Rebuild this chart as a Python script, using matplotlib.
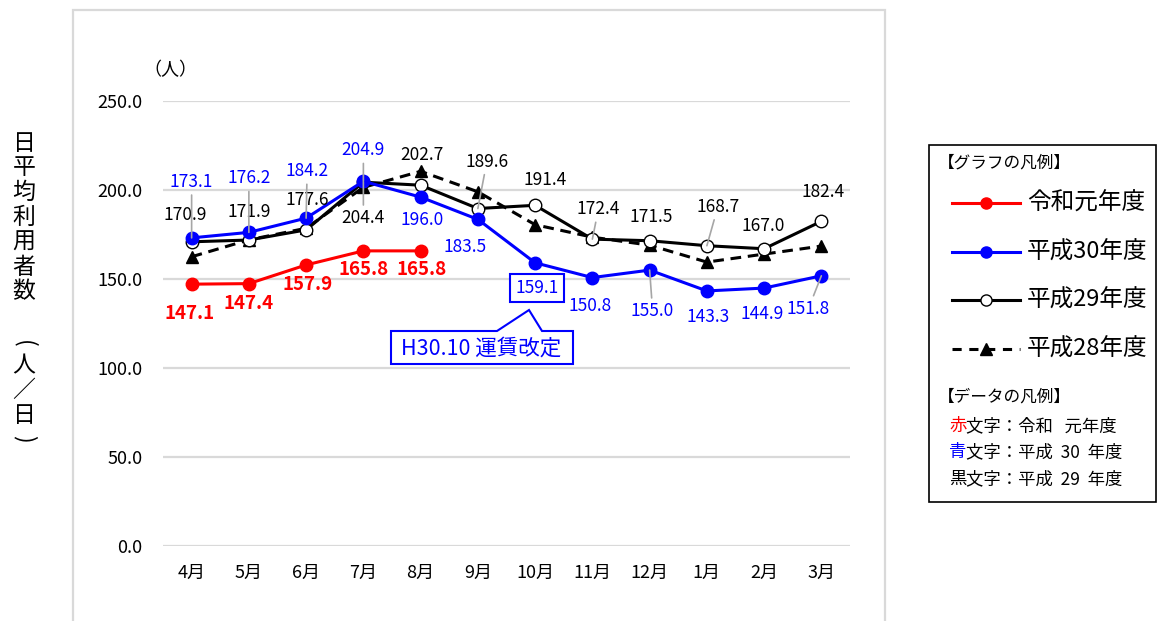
import numpy as np
import matplotlib.pyplot as plt
from matplotlib.lines import Line2D
from matplotlib.patches import Rectangle, Polygon

plt.rcParams['font.family'] = ['Noto Sans CJK JP', 'DejaVu Sans']

W, H = 1158, 621

months = ["4月", "5月", "6月", "7月", "8月", "9月", "10月", "11月", "12月", "1月", "2月", "3月"]
r1 = [147.1, 147.4, 157.9, 165.8, 165.8]
h30 = [173.1, 176.2, 184.2, 204.9, 196.0, 183.5, 159.1, 150.8, 155.0, 143.3, 144.9, 151.8]
h29 = [170.9, 171.9, 177.6, 204.4, 202.7, 189.6, 191.4, 172.4, 171.5, 168.7, 167.0, 182.4]
h28 = [162.5, 172.0, 178.5, 201.5, 210.5, 199.0, 180.5, 173.5, 169.0, 159.5, 164.0, 168.5]

# label offsets in pixels (dx, dy up)
h30_off = [(0, 56), (0, 54), (1, 47), (0, 31), (1, -23), (-13, -28), (2, -25),
           (-2, -28), (3, -41), (1, -26), (-2, -26), (-13, -33)]
h29_off = [(-6, 27), (0, 28), (1, 30), (0, -36), (1, 30), (9, 47), (10, 25),
           (6, 30), (2, 24), (11, 39), (-1, 23), (2, 29)]
r1_off = [(-2, -29), (0, -20), (1, -20), (0, -19), (1, -19)]
h30_lead = [0, 1, 2, 3, 8, 11]
h29_lead = [3, 5, 7, 9]

RED, BLUE, GRID = "#ff0000", "#0000ff", "#d9d9d9"


def fx(x):
    return x / W


def fy(y):
    return 1 - y / H


fig = plt.figure(figsize=(W / 100, H / 100), dpi=100)
fig.add_artist(Rectangle((fx(73), fy(660)), fx(885) - fx(73), fy(10) - fy(660),
                         transform=fig.transFigure, fill=False, edgecolor=GRID, lw=1.6))

ax = fig.add_axes([fx(163), fy(546), (850 - 163) / W, (546 - 101) / H])
x = np.arange(len(months))

ax.plot(x, h28, color="black", lw=2.2, ls=(0, (3.5, 2.2)), marker="^", ms=8, zorder=3)
ax.plot(x, h29, color="black", lw=2.2, marker="o", ms=9, mfc="white", mec="black", mew=1.0, zorder=4)
ax.plot(x, h30, color=BLUE, lw=2.2, marker="o", ms=9, zorder=5)
ax.plot(x[:len(r1)], r1, color=RED, lw=2.2, marker="o", ms=9, zorder=6)

lead = dict(arrowstyle="-", color="#a6a6a6", lw=1.2, shrinkA=1, shrinkB=0)
for i, v in enumerate(h29):
    ap = lead if i in h29_lead else None
    ax.annotate(f"{v:.1f}", (x[i], v), xytext=h29_off[i], textcoords="offset pixels",
                ha="center", va="center", fontsize=12.5, color="black", arrowprops=ap, zorder=7)
for i, v in enumerate(h30):
    ap = lead if i in h30_lead else None
    bb = None
    if i == 6:
        bb = dict(boxstyle="square,pad=0.3", fc="white", ec=BLUE, lw=1.5)
    ax.annotate(f"{v:.1f}", (x[i], v), xytext=h30_off[i], textcoords="offset pixels",
                ha="center", va="center", fontsize=12.5, color=BLUE, arrowprops=ap, bbox=bb, zorder=7)
for i, v in enumerate(r1):
    ax.annotate(f"{v:.1f}", (x[i], v), xytext=r1_off[i], textcoords="offset pixels",
                ha="center", va="center", fontsize=13.5, color=RED, fontweight="bold", zorder=7)

ax.set_xlim(-0.5, len(months) - 0.5)
ax.set_ylim(0, 250)
ax.set_yticks(np.arange(0, 251, 50))
ax.set_yticklabels([f"{t:.1f}" for t in np.arange(0, 251, 50)])
ax.set_xticks(x)
ax.set_xticklabels(months)
ax.tick_params(length=0, labelsize=13)
ax.tick_params(axis="y", pad=15)
ax.tick_params(axis="x", pad=13)
ax.grid(axis="y", color=GRID, lw=1.6)
ax.set_axisbelow(True)
for s in ax.spines.values():
    s.set_visible(False)

fig.text(fx(170), fy(70), "（人）", ha="center", va="center", fontsize=13)

# vertical y label
ylab = "日平均利用者数 (人／日)"
for k, ch in enumerate(ylab):
    if ch == " ":
        continue
    yy = 143 + k * 24.8
    rot = 0
    if ch == "(":
        rot, yy = -90, yy + 2
    elif ch == ")":
        rot, yy = -90, yy - 2
    fig.text(fx(24), fy(yy), ch, ha="center", va="center", fontsize=16.5, rotation=rot)

# callout
callout = [(391, 331), (497, 331), (529, 310), (542, 331), (573, 331), (573, 364), (391, 364)]
fig.add_artist(Polygon([(fx(a), fy(b)) for a, b in callout], closed=True, transform=fig.transFigure,
                       fc="white", ec=BLUE, lw=1.5, zorder=8))
fig.text(fx(481), fy(349), "H30.10 運賃改定", ha="center", va="center", fontsize=15.5, color=BLUE, zorder=9)

# legend box
fig.add_artist(Rectangle((fx(929), fy(502)), fx(1156) - fx(929), fy(145) - fy(502),
                         transform=fig.transFigure, fill=False, edgecolor="black", lw=1.2))
fig.text(fx(938), fy(163), "【グラフの凡例】", ha="left", va="center", fontsize=12)
entries = [
    ("令和元年度", dict(color=RED, marker="o", ms=8, ls="-")),
    ("平成30年度", dict(color=BLUE, marker="o", ms=8, ls="-")),
    ("平成29年度", dict(color="black", marker="o", ms=8, mfc="white", mec="black", ls="-")),
    ("平成28年度", dict(color="black", marker="^", ms=8, ls=(0, (3, 2.5)))),
]
for k, (name, st) in enumerate(entries):
    yy = 203 + k * 48.7
    fig.add_artist(Line2D([fx(952), fx(1020)], [fy(yy), fy(yy)], transform=fig.transFigure, lw=2.2,
                          color=st["color"], ls=st["ls"]))
    mk = {kk: vv for kk, vv in st.items() if kk not in ("ls",)}
    fig.add_artist(Line2D([fx(986)], [fy(yy)], transform=fig.transFigure, ls="none", **mk))
    fig.text(fx(1027), fy(yy), name, ha="left", va="center", fontsize=17)
fig.text(fx(938), fy(397), "【データの凡例】", ha="left", va="center", fontsize=12)
data_leg = [("赤", RED, "文字：令和   元年度"), ("青", BLUE, "文字：平成  30  年度"), ("黒", "black", "文字：平成  29  年度")]
for k, (c0, col, rest) in enumerate(data_leg):
    yy = 426 + k * 26.5
    fig.text(fx(949), fy(yy), c0, ha="left", va="center", fontsize=12.5, color=col)
    fig.text(fx(966), fy(yy), rest, ha="left", va="center", fontsize=12.5, color="black")

fig.savefig("out.png", dpi=100)
